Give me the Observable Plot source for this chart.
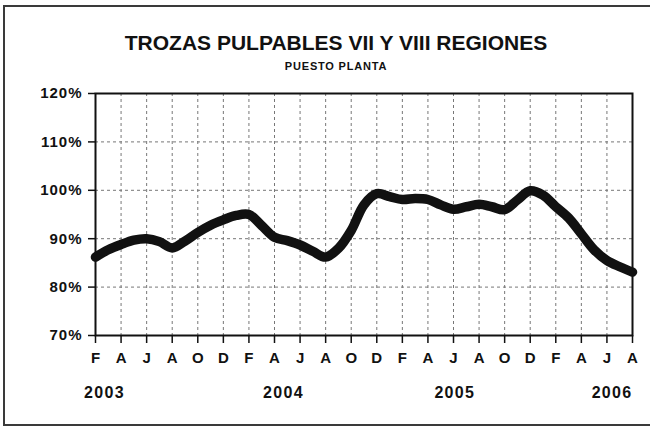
<!DOCTYPE html>
<html><head><meta charset="utf-8">
<script src="https://cdn.jsdelivr.net/npm/d3@7"></script>
<script src="https://cdn.jsdelivr.net/npm/@observablehq/plot@0.6"></script>
<style>
body{margin:0;background:#fff;}
#wrap{position:relative;width:650px;height:427px;overflow:hidden;background:#fff;font-family:"Liberation Sans",Arial,sans-serif;color:#111;}
#border{position:absolute;left:3px;top:5px;width:700px;height:421px;border:2px solid #3a3a3a;box-sizing:border-box;}
#title{position:absolute;left:0;width:672px;top:32px;text-align:center;font-weight:bold;font-size:21px;line-height:21px;white-space:nowrap;}
#subtitle{position:absolute;left:0;width:672px;top:61px;text-align:center;font-weight:bold;font-size:11px;line-height:11px;letter-spacing:0.8px;white-space:nowrap;}
#chart{position:absolute;left:0;top:0;}
g[aria-label="y-axis tick label"] text{letter-spacing:1px;}
g[aria-label="text"] text{letter-spacing:1.3px;}
</style>
</head><body>
<div id="wrap">
  <div id="border"></div>
  <div id="chart"></div>
  <div id="title">TROZAS PULPABLES VII Y VIII REGIONES</div>
  <div id="subtitle">PUESTO PLANTA</div>
</div>
<script>
// Monthly values, Feb 2003 .. Aug 2006 (percent)
const values = [86.2, 87.7, 88.8, 89.7, 90.0, 89.4, 88.1, 89.5, 91.3, 92.8, 93.9, 94.8,
                95.0, 92.7, 90.3, 89.6, 88.7, 87.4, 86.2, 88.0, 91.7, 97.0, 99.3, 98.7,
                98.1, 98.3, 98.1, 97.0, 96.1, 96.6, 97.1, 96.6, 96.0, 98.0, 99.9, 99.0,
                96.6, 94.3, 91.0, 87.7, 85.5, 84.2, 83.1];
// Tick labels every two months
const tickLabels = ["F","A","J","A","O","D","F","A","J","A","O","D","F","A","J","A","O","D","F","A","J","A"];
const years = ["2003","2004","2005","2006"];
const yearPos = [0.7, 14.7, 28.1, 40.4];   // category position (month index)
const yTicks = [70, 80, 90, 100, 110, 120];

const data = values.map((v, i) => ({m: i, v}));
const tickPos = tickLabels.map((_, i) => i * 2);

const chart = Plot.plot({
  width: 650, height: 427,
  marginLeft: 95, marginRight: 18, marginTop: 93, marginBottom: 92,
  style: {fontFamily: '"Liberation Sans", Arial, sans-serif', fontWeight: "bold", color: "#111", background: "transparent", overflow: "visible"},
  x: {domain: [0, 42], axis: null},
  y: {domain: [70, 120], axis: null},
  marks: [
    Plot.ruleY(yTicks.slice(1, -1), {stroke: "#777", strokeDasharray: "3,3", strokeWidth: 1}),
    Plot.ruleX(tickPos.slice(1, -1), {stroke: "#777", strokeDasharray: "3,3", strokeWidth: 1}),
    Plot.frame({stroke: "#111", strokeWidth: 2}),
    Plot.axisY({ticks: yTicks, label: null, tickSize: 7, tickPadding: 6, tickFormat: d => d + "%", fontSize: 15, stroke: "#111", strokeWidth: 1.5}),
    Plot.axisX({ticks: tickPos, label: null, tickSize: 8, tickPadding: 9, tickFormat: d => tickLabels[d / 2], fontSize: 15, stroke: "#111", strokeWidth: 1.5}),
    Plot.line(data, {x: "m", y: "v", curve: "catmull-rom", stroke: "#111", strokeWidth: 9.5, strokeLinecap: "round", strokeLinejoin: "round"}),
    Plot.text(years, {x: (d, i) => yearPos[i], text: d => d, frameAnchor: "bottom", dy: 62.5, fontSize: 16, fill: "#111"})
  ]
});
document.getElementById("chart").appendChild(chart);
</script>
</body></html>
